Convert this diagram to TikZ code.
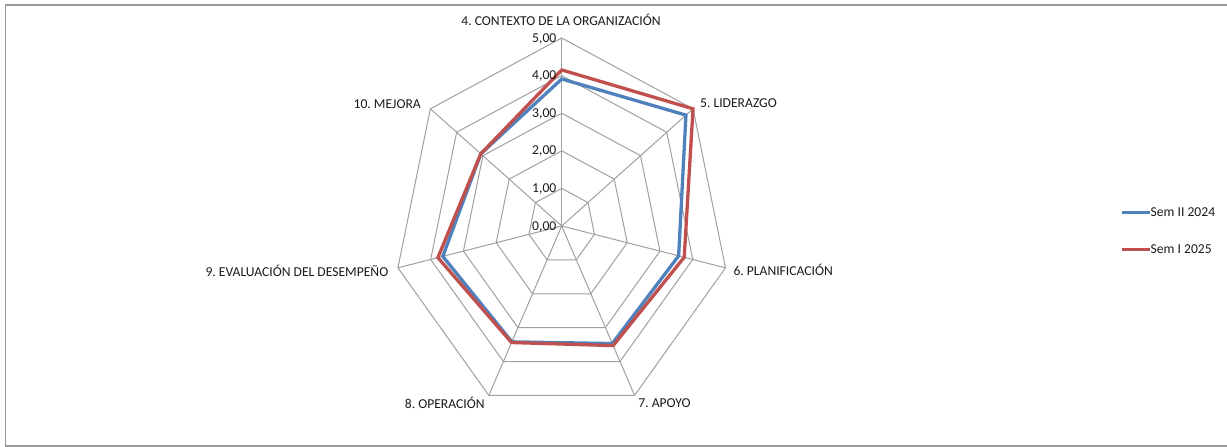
\documentclass[tikz,border=0pt]{standalone}
\usepackage{fontspec}
\setmainfont{Carlito}
\frenchspacing
\definecolor{gridc}{HTML}{A0A0A0}
\definecolor{framec}{HTML}{9A9A9A}
\definecolor{sblue}{HTML}{4F81BD}
\definecolor{sred}{HTML}{C0504D}
\definecolor{txt}{HTML}{1A1A1A}
\tikzset{
  gridline/.style={draw=gridc, line width=1pt},
  serieblue/.style={draw=sblue, line width=3.3pt, line join=miter},
  seriered/.style={draw=sred, line width=3.3pt, line join=miter},
  lbl/.style={text=txt, font=\fontsize{13.6}{15}\selectfont, inner sep=0pt},
  ticklbl/.style={text=txt, font=\fontsize{13.6}{15}\selectfont, inner sep=0pt, anchor=east},
}
\begin{document}
\begin{tikzpicture}[x=1pt,y=-1pt]
\useasboundingbox (0,0) rectangle (1227,447);
\draw[framec, line width=1.5pt] (5.5,4.8) rectangle (1240,446);
\begin{scope}[shift={(561.7,226)}, x=33.6pt, y=37.6pt]
  % grid heptagons
  \foreach \r in {1,2,3,4,5}{
    \draw[gridline] (90:\r) \foreach \k in {1,...,6}{ -- ({90-\k*360/7}:\r)} -- cycle;
  }
  % spokes
  \coordinate (c) at (0,0);
  \foreach \k in {0,...,6}{
    \coordinate (v\k) at ({90-\k*360/7}:5);
    \draw[gridline] (c) -- (v\k);
  }
  % data
  \coordinate (b0) at (90:3.91);
  \coordinate (b1) at ({90-1*360/7}:4.73);
  \coordinate (b2) at ({90-2*360/7}:3.57);
  \coordinate (b3) at ({90-3*360/7}:3.47);
  \coordinate (b4) at ({90-4*360/7}:3.42);
  \coordinate (b5) at ({90-5*360/7}:3.63);
  \coordinate (b6) at ({90-6*360/7}:3.08);
  \coordinate (r0) at (90:4.15);
  \coordinate (r1) at ({90-1*360/7}:5.0);
  \coordinate (r2) at ({90-2*360/7}:3.74);
  \coordinate (r3) at ({90-3*360/7}:3.53);
  \coordinate (r4) at ({90-4*360/7}:3.44);
  \coordinate (r5) at ({90-5*360/7}:3.78);
  \coordinate (r6) at ({90-6*360/7}:3.08);
  \draw[serieblue] (b0) -- (b1) -- (b2) -- (b3) -- (b4) -- (b5) -- (b6) -- cycle;
  \draw[seriered] (r0) -- (r1) -- (r2) -- (r3) -- (r4) -- (r5) -- (r6) -- cycle;
\end{scope}
% tick labels
\node[ticklbl] (t0) at (556.5,226.5) {0,00};
\node[ticklbl] (t1) at (556.5,188.9) {1,00};
\node[ticklbl] (t2) at (556.5,151.3) {2,00};
\node[ticklbl] (t3) at (556.5,113.7) {3,00};
\node[ticklbl] (t4) at (556.5,76.1) {4,00};
\node[ticklbl] (t5) at (556.5,38.5) {5,00};
% axis labels
\node[lbl] (a4) at (561,19.5) {4. CONTEXTO DE LA ORGANIZACIÓN};
\node[lbl, anchor=west] (a5) at (700,103) {5. LIDERAZGO};
\node[lbl, anchor=west] (a6) at (733.3,270) {6. PLANIFICACIÓN};
\node[lbl] (a7) at (664.5,403) {7. APOYO};
\node[lbl] (a8) at (444.7,403) {8. OPERACIÓN};
\node[lbl, anchor=east] (a9) at (388.5,270.5) {9. EVALUACIÓN DEL DESEMPEÑO};
\node[lbl, anchor=east] (a10) at (421,104) {10. MEJORA};
% legend
\coordinate (lb1) at (1121.7,212.3);
\coordinate (lb2) at (1150,212.3);
\coordinate (lr1) at (1121.7,249.3);
\coordinate (lr2) at (1150,249.3);
\draw[serieblue] (lb1) -- (lb2);
\draw[seriered] (lr1) -- (lr2);
\node[lbl, anchor=west] (leg1) at (1150.5,212.3) {Sem II 2024};
\node[lbl, anchor=west] (leg2) at (1150.5,249.3) {Sem I 2025};
\end{tikzpicture}
\end{document}
